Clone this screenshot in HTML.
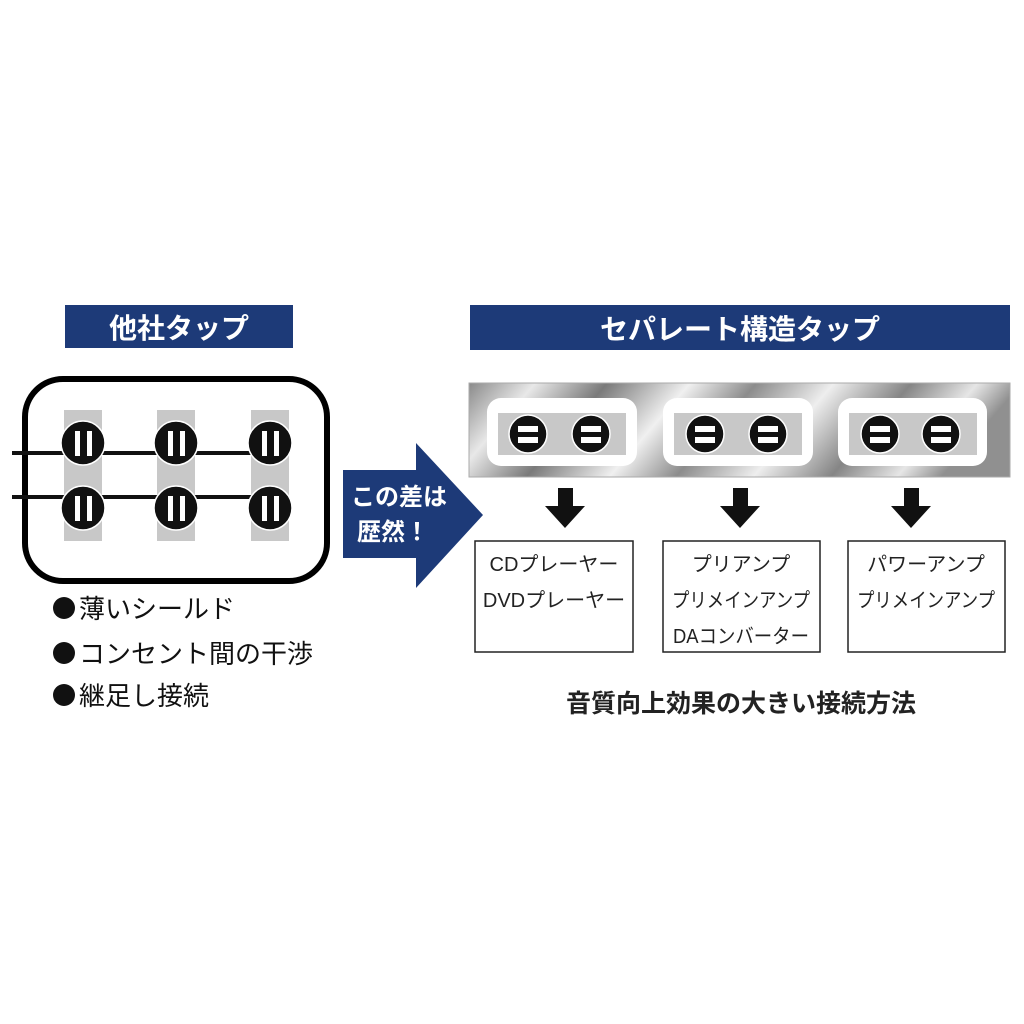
<!DOCTYPE html>
<html><head><meta charset="utf-8"><style>
html,body{margin:0;padding:0;background:#fff;width:1024px;height:1024px;overflow:hidden}
svg text{font-family:"Liberation Sans","Noto Sans CJK JP",sans-serif}
</style></head><body>
<svg width="1024" height="1024" viewBox="0 0 1024 1024" xmlns="http://www.w3.org/2000/svg">
<defs>
<linearGradient id="metal" x1="0" y1="0" x2="1" y2="0.15">
<stop offset="0" stop-color="#8a8a8a"/><stop offset="0.12" stop-color="#e8e8e8"/><stop offset="0.25" stop-color="#7a7a7a"/>
<stop offset="0.4" stop-color="#f0f0f0"/><stop offset="0.52" stop-color="#8c8c8c"/><stop offset="0.66" stop-color="#eeeeee"/>
<stop offset="0.8" stop-color="#858585"/><stop offset="0.92" stop-color="#e6e6e6"/><stop offset="1" stop-color="#909090"/>
</linearGradient>
</defs>
<rect x="65" y="305" width="228" height="43" fill="#1d3a78"/>
<text x="179" y="338" font-size="28" font-weight="bold" fill="#fff" text-anchor="middle">他社タップ</text>
<rect x="470" y="305" width="540" height="45" fill="#1d3a78"/>
<text x="740" y="339" font-size="28" font-weight="bold" fill="#fff" text-anchor="middle">セパレート構造タップ</text>

<rect x="25" y="379" width="302" height="202" rx="38" fill="#fff" stroke="#000" stroke-width="6"/>
<g fill="#c8c8c8">
<rect x="64" y="410" width="38" height="131"/><rect x="157" y="410" width="38" height="131"/><rect x="251" y="410" width="38" height="131"/>
</g>
<g stroke="#111" stroke-width="4">
<line x1="12" y1="453" x2="268" y2="453"/><line x1="12" y1="497" x2="268" y2="497"/>
</g>
<g fill="#111" stroke="#fff" stroke-width="1.5">
<circle cx="83" cy="443" r="22"/><circle cx="176" cy="443" r="22"/><circle cx="270" cy="443" r="22"/>
<circle cx="83" cy="508" r="22"/><circle cx="176" cy="508" r="22"/><circle cx="270" cy="508" r="22"/>
</g>
<g fill="#fff">
<rect x="75" y="431" width="5" height="25"/><rect x="87" y="431" width="5" height="25"/>
<rect x="168" y="431" width="5" height="25"/><rect x="180" y="431" width="5" height="25"/>
<rect x="262" y="431" width="5" height="25"/><rect x="274" y="431" width="5" height="25"/>
<rect x="75" y="496" width="5" height="25"/><rect x="87" y="496" width="5" height="25"/>
<rect x="168" y="496" width="5" height="25"/><rect x="180" y="496" width="5" height="25"/>
<rect x="262" y="496" width="5" height="25"/><rect x="274" y="496" width="5" height="25"/>
</g>
<g fill="#111">
<circle cx="64" cy="608" r="11"/><circle cx="64" cy="653" r="11"/><circle cx="64" cy="695" r="11"/>
</g>
<g font-size="26" fill="#111">
<text x="79" y="618">薄いシールド</text>
<text x="79" y="663">コンセント間の干渉</text>
<text x="79" y="705">継足し接続</text>
</g>

<polygon points="343,470 416,470 416,443 483,515 416,588 416,558 343,558" fill="#1d3a78"/>
<text x="399" y="505" font-size="24" font-weight="bold" fill="#fff" text-anchor="middle">この差は</text>
<text x="393" y="540" font-size="24" font-weight="bold" fill="#fff" text-anchor="middle">歴然！</text>

<rect x="469" y="383" width="541" height="94" fill="url(#metal)" stroke="#aaa"/>
<g fill="#fff">
<rect x="487" y="398" width="150" height="68" rx="14"/>
<rect x="663" y="398" width="150" height="68" rx="14"/>
<rect x="838" y="398" width="149" height="68" rx="14"/>
</g>
<g fill="#c8c8c8">
<rect x="498" y="413" width="128" height="42"/><rect x="674" y="413" width="128" height="42"/><rect x="849" y="413" width="128" height="42"/>
</g>
<g fill="#111" stroke="#fff" stroke-width="1.5">
<circle cx="528" cy="434" r="19"/><circle cx="591" cy="434" r="19"/>
<circle cx="705" cy="434" r="19"/><circle cx="768" cy="434" r="19"/>
<circle cx="880" cy="434" r="19"/><circle cx="941" cy="434" r="19"/>
</g>
<g fill="#fff">
<rect x="518" y="426" width="20" height="6"/><rect x="518" y="437" width="20" height="6"/>
<rect x="581" y="426" width="20" height="6"/><rect x="581" y="437" width="20" height="6"/>
<rect x="695" y="426" width="20" height="6"/><rect x="695" y="437" width="20" height="6"/>
<rect x="758" y="426" width="20" height="6"/><rect x="758" y="437" width="20" height="6"/>
<rect x="870" y="426" width="20" height="6"/><rect x="870" y="437" width="20" height="6"/>
<rect x="931" y="426" width="20" height="6"/><rect x="931" y="437" width="20" height="6"/>
</g>

<g fill="#111">
<polygon points="558,488 573,488 573,506 585,506 565,528 545,506 558,506"/>
<polygon points="733,488 748,488 748,506 760,506 740,528 720,506 733,506"/>
<polygon points="904,488 919,488 919,506 931,506 911,528 891,506 904,506"/>
</g>

<g fill="#fff" stroke="#222" stroke-width="1.5">
<rect x="475" y="541" width="158" height="111"/>
<rect x="663" y="541" width="157" height="111"/>
<rect x="848" y="541" width="157" height="111"/>
</g>
<g font-size="20" fill="#222" text-anchor="middle">
<text x="554" y="571">CDプレーヤー</text>
<text x="554" y="607">DVDプレーヤー</text>
<text x="741" y="571">プリアンプ</text>
<text x="741" y="607" textLength="138" lengthAdjust="spacingAndGlyphs">プリメインアンプ</text>
<text x="741" y="643" textLength="136" lengthAdjust="spacingAndGlyphs">DAコンバーター</text>
<text x="926" y="571">パワーアンプ</text>
<text x="926" y="607" textLength="138" lengthAdjust="spacingAndGlyphs">プリメインアンプ</text>
</g>
<text x="741" y="712" font-size="25" font-weight="bold" fill="#222" text-anchor="middle">音質向上効果の大きい接続方法</text>
</svg>
</body></html>
